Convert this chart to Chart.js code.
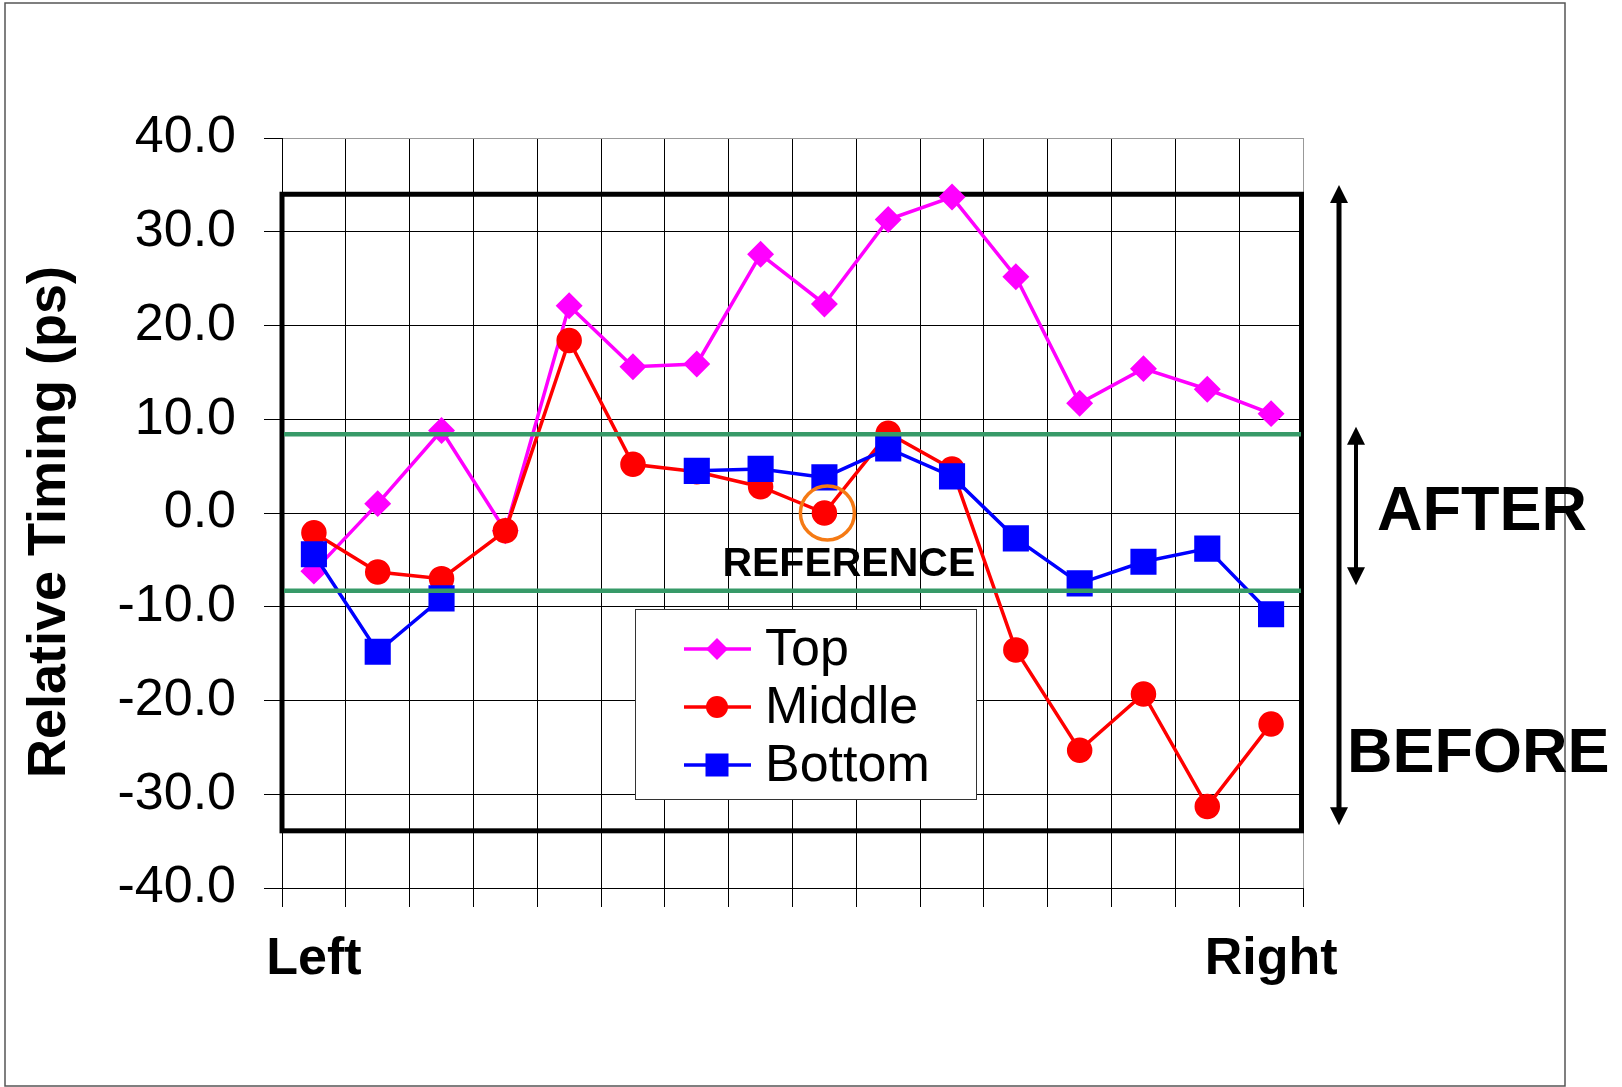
<!DOCTYPE html>
<html>
<head>
<meta charset="utf-8">
<script src="https://cdn.jsdelivr.net/npm/chart.js@4.4.0/dist/chart.umd.min.js"></script>
<style>
  body { margin: 0; background: #fff; }
</style>
</head>
<body>
<canvas id="timingCanvas" width="1622" height="1087"></canvas>
<script>
// positions along the die, only the two ends are labelled
const categories = ["Left", "", "", "", "", "", "", "", "", "", "", "", "", "", "", "Right"];

const topValues = [-6.2, 1.0, 8.8, -1.9, 22.1, 15.6, 15.9, 27.6, 22.3, 31.3, 33.7, 25.2, 11.7, 15.4, 13.2, 10.6];
const middleValues = [-2.1, -6.3, -7.0, -1.9, 18.4, 5.2, 4.4, 2.8, 0.0, 8.5, 4.7, -14.6, -25.3, -19.3, -31.3, -22.5];
const bottomValues = [-4.4, -14.8, -9.1, null, null, null, 4.5, 4.7, 3.8, 6.9, 3.9, -2.7, -7.5, -5.2, -3.8, -10.8];

const yTickValues = [-40, -30, -20, -10, 0, 10, 20, 30, 40];

// "after" window (green) and "before" spread (black box)
const afterLimits = [8.4, -8.3];
const beforeLimits = [34, -33.9];
const referenceIndex = 8;

const FONT = "'Liberation Sans', Arial, sans-serif";

function arrow(ctx, x, yTop, yBottom, width) {
  ctx.lineWidth = width;
  ctx.beginPath();
  ctx.moveTo(x, yTop + 10);
  ctx.lineTo(x, yBottom - 10);
  ctx.stroke();
  ctx.beginPath();
  ctx.moveTo(x, yTop);
  ctx.lineTo(x - 9, yTop + 18);
  ctx.lineTo(x + 9, yTop + 18);
  ctx.closePath();
  ctx.fill();
  ctx.beginPath();
  ctx.moveTo(x, yBottom);
  ctx.lineTo(x - 9, yBottom - 18);
  ctx.lineTo(x + 9, yBottom - 18);
  ctx.closePath();
  ctx.fill();
}

function marker(ctx, style, x, y, color) {
  ctx.fillStyle = color;
  ctx.beginPath();
  if (style === "rectRot") {
    ctx.moveTo(x - 11, y);
    ctx.lineTo(x, y - 11);
    ctx.lineTo(x + 11, y);
    ctx.lineTo(x, y + 11);
    ctx.closePath();
  } else if (style === "circle") {
    ctx.arc(x, y, 11, 0, Math.PI * 2);
  } else {
    ctx.rect(x - 11.5, y - 11.5, 23, 23);
  }
  ctx.fill();
}

const overlay = {
  id: "overlay",
  beforeDraw(chart) {
    const ctx = chart.ctx;
    ctx.save();
    ctx.fillStyle = "#fff";
    ctx.fillRect(0, 0, chart.width, chart.height);
    ctx.strokeStyle = "#555";
    ctx.lineWidth = 1.5;
    ctx.strokeRect(5, 3, 1560, 1083);
    // y title, drawn by hand so it sits where the original has it
    ctx.translate(50, 522);
    ctx.rotate(-Math.PI / 2);
    ctx.fillStyle = "#000";
    ctx.font = "bold 54px " + FONT;
    ctx.textAlign = "center";
    ctx.textBaseline = "middle";
    ctx.fillText("Relative Timing (ps)", 0, 0);
    ctx.restore();
  },
  beforeDatasetsDraw(chart) {
    const { ctx, chartArea: a, scales: { y } } = chart;
    const t = y.getPixelForValue(beforeLimits[0]);
    const b = y.getPixelForValue(beforeLimits[1]);
    ctx.save();
    ctx.strokeStyle = "#000";
    ctx.lineWidth = 5;
    ctx.strokeRect(a.left, t, a.right - a.left - 1.5, b - t);
    ctx.restore();
  },
  afterDatasetsDraw(chart) {
    const { ctx, chartArea: a, scales: { y } } = chart;
    ctx.save();

    // after window
    ctx.strokeStyle = "#379a68";
    ctx.lineWidth = 4.5;
    afterLimits.forEach(v => {
      const py = y.getPixelForValue(v);
      ctx.beginPath();
      ctx.moveTo(a.left + 2, py);
      ctx.lineTo(a.right - 2, py);
      ctx.stroke();
    });

    // reference point
    const p = chart.getDatasetMeta(1).data[referenceIndex];
    ctx.strokeStyle = "#f57a14";
    ctx.lineWidth = 3.5;
    ctx.beginPath();
    ctx.arc(p.x + 3, p.y, 27, 0, Math.PI * 2);
    ctx.stroke();
    ctx.fillStyle = "#000";
    ctx.font = "bold 41px " + FONT;
    ctx.textBaseline = "alphabetic";
    ctx.fillText("REFERENCE", p.x - 102, p.y + 63);

    // legend
    const lx = 635, ly = 609, lw = 341, lh = 190;
    ctx.fillStyle = "#fff";
    ctx.fillRect(lx, ly, lw, lh);
    ctx.strokeStyle = "#333";
    ctx.lineWidth = 1;
    ctx.strokeRect(lx + 0.5, ly + 0.5, lw, lh);
    ctx.font = "52px " + FONT;
    ctx.textBaseline = "middle";
    chart.data.datasets.forEach((ds, i) => {
      const cy = ly + 40 + i * 58;
      ctx.strokeStyle = ds.borderColor;
      ctx.lineWidth = 3.5;
      ctx.beginPath();
      ctx.moveTo(lx + 49, cy);
      ctx.lineTo(lx + 116, cy);
      ctx.stroke();
      marker(ctx, ds.pointStyle, lx + 82, cy, ds.borderColor);
      ctx.fillStyle = "#000";
      ctx.fillText(ds.label, lx + 130, cy + 2);
    });

    // spread arrows
    ctx.strokeStyle = "#000";
    ctx.fillStyle = "#000";
    arrow(ctx, a.right + 36, y.getPixelForValue(35), y.getPixelForValue(-33.3), 5);
    arrow(ctx, a.right + 53, y.getPixelForValue(9.2), y.getPixelForValue(-7.7), 4);
    ctx.font = "bold 63px " + FONT;
    ctx.textBaseline = "alphabetic";
    ctx.fillText("AFTER", a.right + 74, y.getPixelForValue(-1.8));
    ctx.fillText("BEFORE", a.right + 44, y.getPixelForValue(-27.6));
    ctx.restore();
  }
};

const timingChart = new Chart(document.getElementById("timingCanvas"), {
  type: "line",
  data: {
    labels: categories,
    datasets: [
      {
        label: "Top",
        data: topValues,
        borderColor: "#ff00ff",
        backgroundColor: "#ff00ff",
        pointBackgroundColor: "#ff00ff",
        pointBorderColor: "#ff00ff",
        pointStyle: "rectRot",
        pointRadius: 11,
        borderWidth: 3.5,
        order: 2
      },
      {
        label: "Middle",
        data: middleValues,
        borderColor: "#ff0000",
        backgroundColor: "#ff0000",
        pointBackgroundColor: "#ff0000",
        pointBorderColor: "#ff0000",
        pointStyle: "circle",
        pointRadius: 11,
        borderWidth: 3.5,
        order: 1
      },
      {
        label: "Bottom",
        data: bottomValues,
        borderColor: "#0000ff",
        backgroundColor: "#0000ff",
        pointBackgroundColor: "#0000ff",
        pointBorderColor: "#0000ff",
        pointStyle: "rect",
        pointRadius: 16,
        borderWidth: 3.5,
        order: 0
      }
    ]
  },
  options: {
    responsive: false,
    animation: false,
    devicePixelRatio: 1,
    layout: { padding: { left: 0, top: 138, right: 319, bottom: 0 } },
    plugins: {
      legend: { display: false },
      tooltip: { enabled: false }
    },
    scales: {
      x: {
        type: "category",
        offset: true,
        grid: {
          offset: true,
          color: ctx => (ctx.type === "tick" ? "#000" : "#999"),
          tickColor: "#000",
          lineWidth: 1,
          tickLength: 19
        },
        border: { color: "#000", width: 1 },
        ticks: {
          autoSkip: false,
          maxRotation: 0,
          minRotation: 0,
          padding: 21,
          color: "#000",
          font: { family: FONT, size: 52, weight: "bold" }
        },
        afterFit(scale) { scale.height = 199; }
      },
      y: {
        min: -40,
        max: 40,
        afterBuildTicks(scale) { scale.ticks = yTickValues.map(v => ({ value: v })); },
        ticks: {
          callback: v => Number(v).toFixed(1),
          padding: 28,
          color: "#000",
          font: { family: FONT, size: 52 }
        },
        grid: {
          color: ctx => (ctx.tick && ctx.tick.value === 40 ? "#999" : "#000"),
          tickColor: "#000",
          lineWidth: 1,
          tickLength: 18
        },
        border: { color: "#000", width: 1 },
        afterFit(scale) { scale.width = 282; }
      }
    }
  },
  plugins: [overlay]
});
</script>
</body>
</html>
